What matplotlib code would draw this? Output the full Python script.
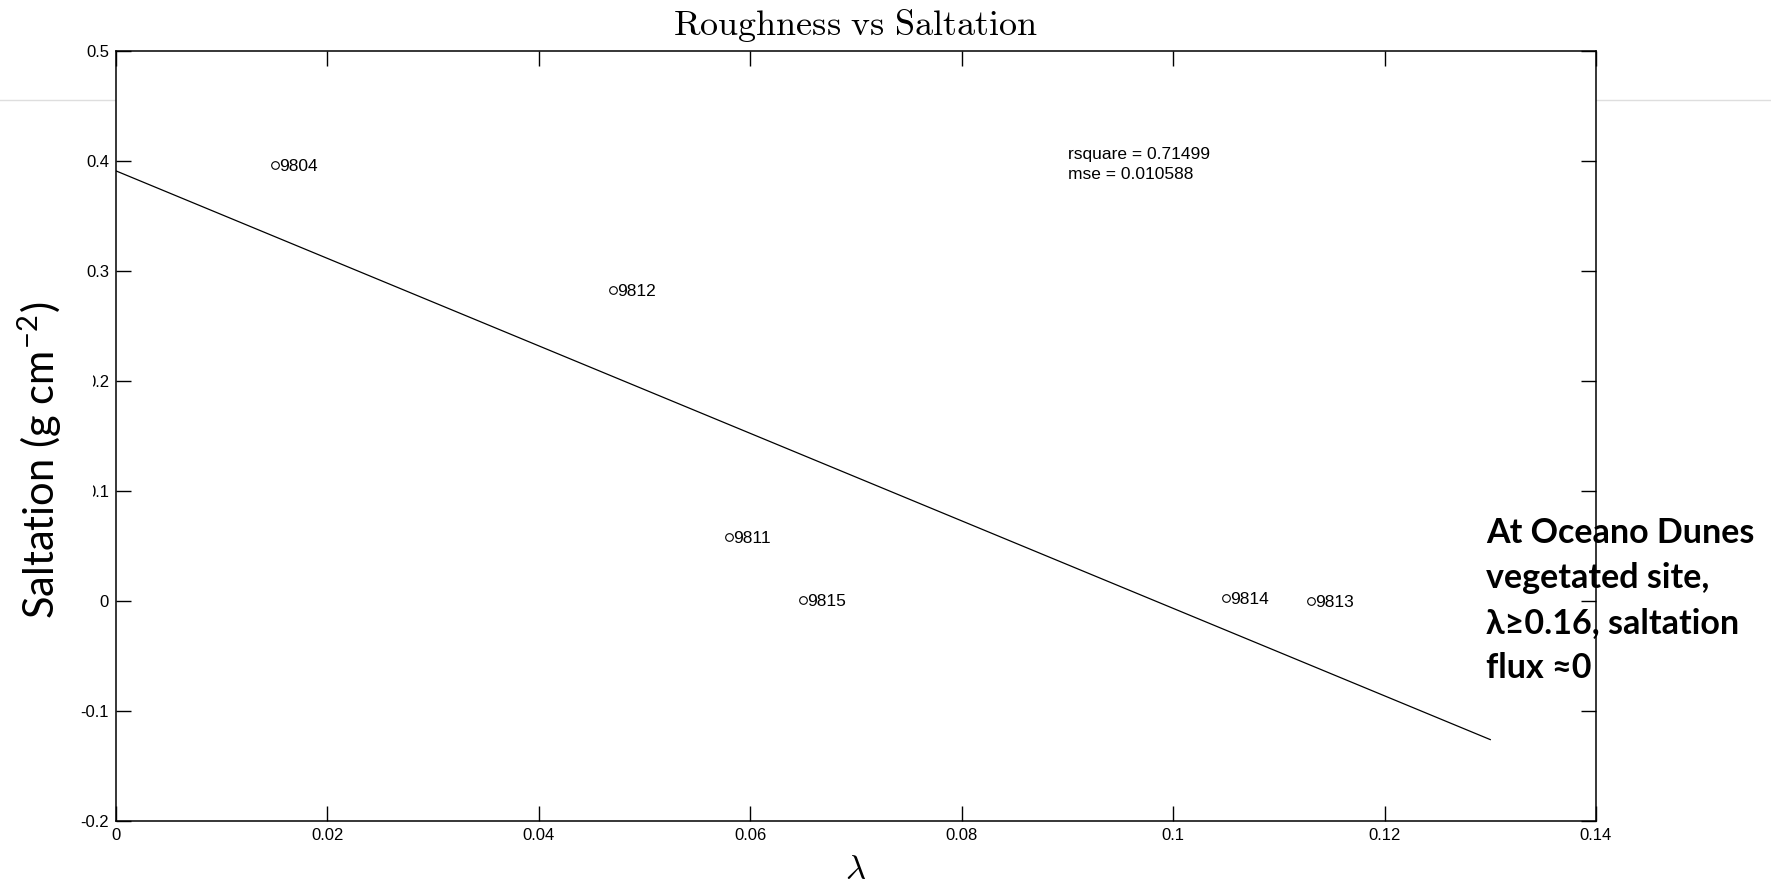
import numpy as np
import matplotlib
matplotlib.use("Agg")
import matplotlib.pyplot as plt
from matplotlib.lines import Line2D
from matplotlib.patches import Rectangle

# values
lam = [0.015, 0.047, 0.058, 0.065, 0.105, 0.113]
salt = [0.396, 0.283, 0.058, 0.001, 0.003, 0.000]
site_ids = ["9804", "9812", "9811", "9815", "9814", "9813"]
fit_x = [0.0, 0.130]          # linear fit, end points as drawn
fit_y = [0.391, -0.126]
x_ticks = [0, 0.02, 0.04, 0.06, 0.08, 0.1, 0.12, 0.14]
y_ticks = [-0.2, -0.1, 0, 0.1, 0.2, 0.3, 0.4, 0.5]
fit_stats = "rsquare = 0.71499\nmse = 0.010588"
note = "At Oceano Dunes\nvegetated site,\n\u03bb\u22650.16, saltation\nflux \u22480"

plt.rcParams["font.family"] = ["Liberation Sans", "DejaVu Sans"]
plt.rcParams["mathtext.fontset"] = "cm"

W, H = 1771, 883
fig = plt.figure(figsize=(W / 100, H / 100), dpi=100)
ax = fig.add_axes([116 / W, 1 - 821 / H, (1596 - 116) / W, (821 - 51) / H])

# faint slide guide line behind the axes
fig.add_artist(Line2D([0, 1], [1 - 100 / H] * 2, transform=fig.transFigure,
                      color="#dedede", lw=1.0, zorder=-1))

ax.plot(fit_x, fit_y, color="black", lw=0.9)
ax.plot(lam, salt, "o", mfc="none", mec="black", ms=5.5, mew=0.8)
for x, y, s in zip(lam, salt, site_ids):
    ax.annotate(s, (x, y), xytext=(3, -1), textcoords="offset points",
                va="center", ha="left", fontsize=12.5)

ax.text(0.0901, 0.413, fit_stats, va="top", ha="left", fontsize=12.5,
        linespacing=1.45)

ax.set_xlim(0, 0.14)
ax.set_ylim(-0.2, 0.5)
ax.set_xticks(x_ticks)
ax.set_xticklabels(["0", "0.02", "0.04", "0.06", "0.08", "0.1", "0.12", "0.14"])
ax.set_yticks(y_ticks)
ax.set_yticklabels(["-0.2", "-0.1", "0", "0.1", "0.2", "0.3", "0.4", "0.5"])
ax.tick_params(direction="in", length=11, width=1, labelsize=12,
               top=True, right=True, pad=5)
for sp in ax.spines.values():
    sp.set_linewidth(1.1)

fig.text(856 / W, 1 - 25 / H, r"$\mathrm{Roughness\ vs\ Saltation}$",
         ha="center", va="center", fontsize=26)
fig.text(856 / W, 1 - 870 / H, r"$\lambda$", ha="center", va="center",
         fontsize=25)

# white box of the pasted y label hides the start of two tick labels
fig.add_artist(Rectangle((0, 1 - 618 / H), 93 / W, (618 - 290) / H,
                         transform=fig.transFigure, facecolor="white",
                         edgecolor="none", zorder=5))
fig.text(40 / W, 1 - 460 / H, r"Saltation (g cm$^{\mathregular{-2}}$)",
         rotation=90, ha="center", va="center", fontsize=30,
         family=["Lato", "DejaVu Sans"], zorder=6)

fig.text(1486 / W, 1 - 517 / H, note, ha="left", va="top", fontsize=24.5,
         fontweight="bold", family=["Lato", "DejaVu Sans"], linespacing=1.5,
         zorder=6)

fig.savefig("out.png", dpi=100)
